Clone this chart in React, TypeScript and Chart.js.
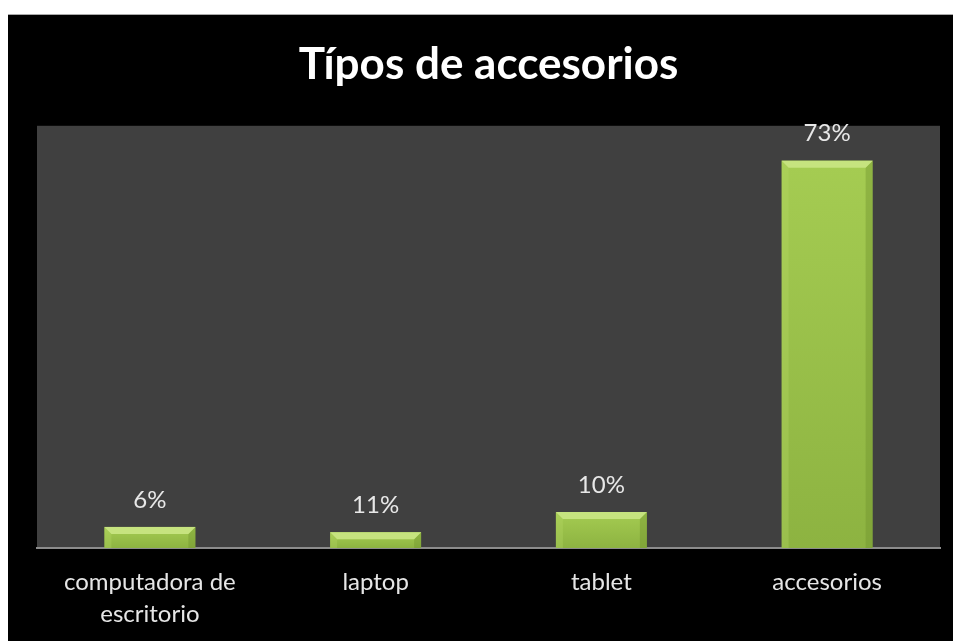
import React, { useEffect, useRef } from "react";
import { Chart, registerables } from "chart.js";

Chart.register(...registerables);

const TITLE = "Típos de accesorios";
const categories: (string | string[])[] = [["computadora de", "escritorio"], "laptop", "tablet", "accesorios"];
const barValues = [4, 3, 6.8, 73.4];
const valueLabels = ["6%", "11%", "10%", "73%"];
const yMax = 80;

const FONT = "Lato, 'Open Sans', sans-serif";

const plotBg = {
  id: "plotBg",
  beforeDraw(chart: any) {
    const { ctx, chartArea } = chart;
    ctx.save();
    ctx.fillStyle = "#404040";
    ctx.fillRect(chartArea.left, chartArea.top, chartArea.right - chartArea.left, chartArea.bottom - chartArea.top);
    ctx.restore();
  },
};

const bevelBars = {
  id: "bevelBars",
  afterDatasetsDraw(chart: any) {
    const { ctx } = chart;
    const meta = chart.getDatasetMeta(0);
    ctx.save();
    meta.data.forEach((bar: any, i: number) => {
      const p = bar.getProps(["x", "y", "base", "width"], true);
      const left = p.x - p.width / 2;
      const right = p.x + p.width / 2;
      const top = p.y;
      const bottom = p.base;
      const h = bottom - top;
      const b = Math.min(7, h / 2);
      const g = ctx.createLinearGradient(0, top, 0, bottom);
      g.addColorStop(0, "#a5cc52");
      g.addColorStop(1, "#8db341");
      ctx.fillStyle = g;
      ctx.fillRect(left, top, p.width, h);
      // left bevel
      ctx.fillStyle = "rgba(180,215,100,0.35)";
      ctx.beginPath();
      ctx.moveTo(left, top);
      ctx.lineTo(left + b, top + b);
      ctx.lineTo(left + b, bottom);
      ctx.lineTo(left, bottom);
      ctx.closePath();
      ctx.fill();
      // right bevel
      ctx.fillStyle = "rgba(110,145,45,0.4)";
      ctx.beginPath();
      ctx.moveTo(right, top);
      ctx.lineTo(right - b, top + b);
      ctx.lineTo(right - b, bottom);
      ctx.lineTo(right, bottom);
      ctx.closePath();
      ctx.fill();
      // top bevel
      ctx.fillStyle = "#c6e37f";
      ctx.beginPath();
      ctx.moveTo(left, top);
      ctx.lineTo(right, top);
      ctx.lineTo(right - b, top + b);
      ctx.lineTo(left + b, top + b);
      ctx.closePath();
      ctx.fill();
      // label
      ctx.fillStyle = "#e8e8e8";
      ctx.font = `24px ${FONT}`;
      ctx.textAlign = "center";
      ctx.textBaseline = "middle";
      ctx.fillText(valueLabels[i], p.x, top - 27);
    });
    ctx.restore();
  },
};

export default function App() {
  const ref = useRef<HTMLCanvasElement>(null);
  useEffect(() => {
    if (!ref.current) return;
    const chart = new Chart(ref.current, {
      type: "bar",
      data: {
        labels: categories as any,
        datasets: [
          {
            data: barValues,
            backgroundColor: "rgba(0,0,0,0)",
            borderWidth: 0,
            barPercentage: 0.403,
            categoryPercentage: 1,
          },
        ],
      },
      options: {
        responsive: false,
        maintainAspectRatio: false,
        animation: false,
        layout: { padding: { left: 29, right: 13, top: 0, bottom: 0 } },
        plugins: {
          legend: { display: false },
          tooltip: { enabled: false },
          title: {
            display: true,
            text: TITLE,
            color: "#ffffff",
            font: { family: FONT, size: 44, weight: "bold", lineHeight: 1.2 },
            padding: { top: 23, bottom: 35 },
          },
        },
        scales: {
          x: {
            grid: { display: false, drawTicks: false },
            border: { display: true, color: "#8c8c8c", width: 2 },
            ticks: {
              color: "#e6e6e6",
              font: { family: FONT, size: 24, lineHeight: 1.35 },
              padding: 18,
              maxRotation: 0,
              autoSkip: false,
            },
            afterFit(scale: any) {
              scale.height = 93;
            },
          },
          y: { display: false, min: 0, max: yMax },
        },
      },
      plugins: [plotBg, bevelBars],
    });
    return () => chart.destroy();
  }, []);
  return (
    <div
      style={{
        position: "fixed",
        left: 8,
        top: 14,
        width: 945,
        height: 627,
        background: "#000",
        borderTop: "1px solid #aaa",
        boxSizing: "border-box",
      }}
    >
      <canvas ref={ref} width={945} height={626} style={{ display: "block" }} />
    </div>
  );
}
